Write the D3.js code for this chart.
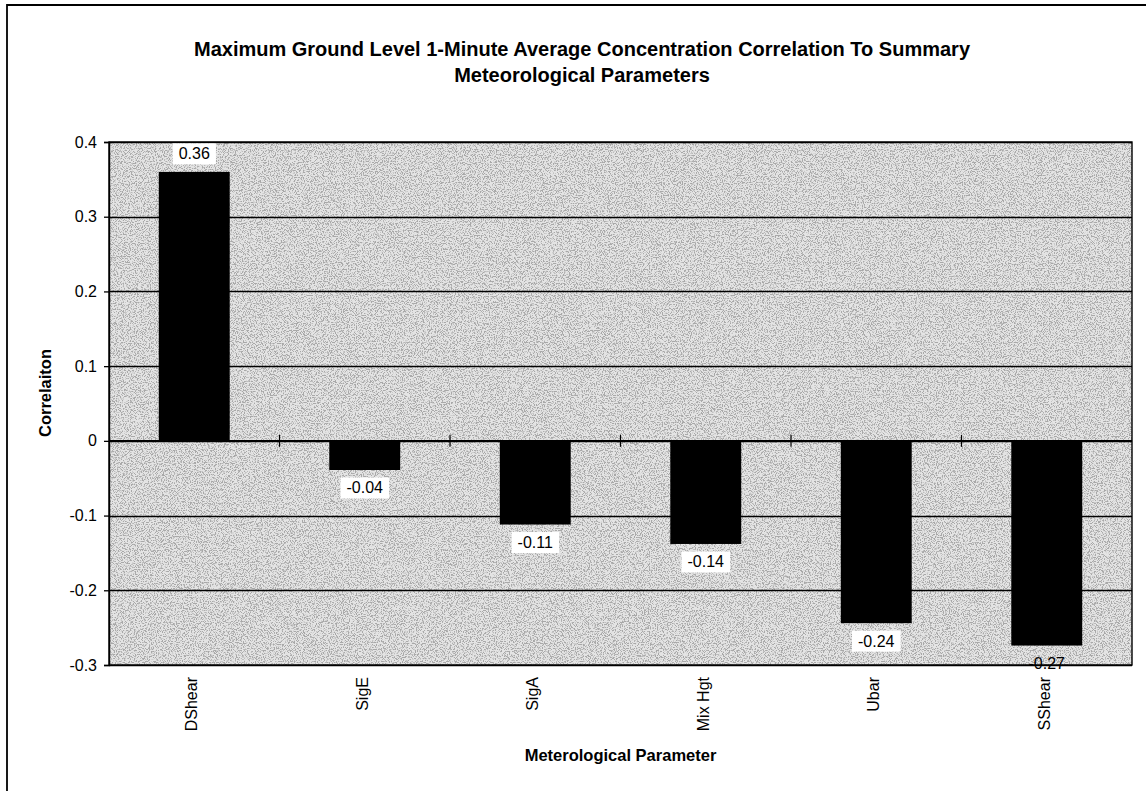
<!DOCTYPE html>
<html><head><meta charset="utf-8">
<script src="https://cdn.jsdelivr.net/npm/d3@7/dist/d3.min.js"></script>
<style>
html,body{margin:0;padding:0;background:#fff;}
svg{display:block;font-family:"Liberation Sans",Arial,sans-serif;}
</style></head>
<body>
<svg id="chart" width="1146" height="791"></svg>
<script>
const categories = ["DShear","SigE","SigA","Mix Hgt","Ubar","SShear"];
const values = [0.36,-0.039,-0.112,-0.138,-0.244,-0.274];
const yTicks = [0.4,0.3,0.2,0.1,0,-0.1,-0.2,-0.3];
const titleLines = ["Maximum Ground Level 1-Minute Average Concentration Correlation To Summary","Meteorological Parameters"];
const xTitle = "Meterological Parameter";
const yTitle = "Correlaiton";

const svg = d3.select("#chart");
const W = 1146, H = 791;
const m = {left:109, right:1132, top:142, bottom:665};

const defs = svg.append("defs");
const f = defs.append("filter").attr("id","grain").attr("x",0).attr("y",0).attr("width","100%").attr("height","100%");
f.append("feTurbulence").attr("type","fractalNoise").attr("baseFrequency",0.85).attr("numOctaves",2).attr("seed",7).attr("result","n");
f.append("feColorMatrix").attr("in","n").attr("type","matrix")
  .attr("values","0 0 0 0 0  0 0 0 0 0  0 0 0 0 0  7 0 0 0 -3.4");

// outer frame
svg.append("path").attr("d",`M7,${H+2}V5H${W+2}`).attr("fill","none").attr("stroke","#000").attr("stroke-width",1.8);

const x = d3.scaleBand().domain(categories).range([m.left,m.right]).paddingInner(0.584).paddingOuter(0.292);
const y = d3.scaleLinear().domain([-0.3,0.4]).range([m.bottom,m.top]);

// plot background (light grey with stipple)
svg.append("rect").attr("x",m.left).attr("y",m.top).attr("width",m.right-m.left).attr("height",m.bottom-m.top)
  .attr("fill","#e4e4e4");
svg.append("rect").attr("x",m.left).attr("y",m.top).attr("width",m.right-m.left).attr("height",m.bottom-m.top)
  .attr("fill","#fff").attr("filter","url(#grain)").attr("opacity",0.26);

// gridlines
svg.append("g").selectAll("line").data(yTicks).join("line")
  .attr("x1",m.left).attr("x2",m.right).attr("y1",d=>Math.round(y(d))+0.5).attr("y2",d=>Math.round(y(d))+0.5)
  .attr("stroke","#000").attr("stroke-width",1.3);

// plot border
svg.append("rect").attr("x",m.left).attr("y",m.top).attr("width",m.right-m.left).attr("height",m.bottom-m.top)
  .attr("fill","none").attr("stroke","#000").attr("stroke-width",1.4);

// y axis
const yAxis = d3.axisLeft(y).tickValues(yTicks).tickSize(5).tickPadding(7).tickFormat(d=>String(d));
const ga = svg.append("g").attr("transform",`translate(${m.left},0)`).call(yAxis);
ga.select(".domain").attr("stroke","#000").attr("stroke-width",1.4);
ga.selectAll(".tick line").attr("stroke","#000").attr("stroke-width",1.3);
ga.selectAll(".tick text").attr("font-size",16).attr("fill","#000").attr("font-family","'Liberation Sans',Arial,sans-serif");

// bars
svg.append("g").selectAll("rect").data(categories).join("rect")
  .attr("x",d=>x(d)).attr("width",x.bandwidth())
  .attr("y",(d,i)=>Math.min(y(values[i]),y(0)))
  .attr("height",(d,i)=>Math.abs(y(values[i])-y(0)))
  .attr("fill","#000");

// zero axis with category-boundary ticks
const step = x.step();
const bounds = d3.range(1,categories.length).map(k=>m.left + k*step);
svg.append("line").attr("x1",m.left).attr("x2",m.right).attr("y1",y(0)).attr("y2",y(0)).attr("stroke","#000").attr("stroke-width",1.6);
svg.append("g").selectAll("line").data(bounds).join("line")
  .attr("x1",d=>d).attr("x2",d=>d).attr("y1",y(0)-6).attr("y2",y(0)+6).attr("stroke","#000").attr("stroke-width",1.2);

// data labels
const fmt = v => d3.format(".2f")(v).replace("\u2212","-");
const lg = svg.append("g");
categories.forEach((c,i)=>{
  const v = values[i];
  const cx = x(c)+x.bandwidth()/2;
  const cy = v>=0 ? y(v)-18 : y(v)+18;
  const g = lg.append("g");
  const t = g.append("text").attr("x",cx).attr("y",cy).attr("text-anchor","middle").attr("dominant-baseline","central")
    .attr("font-size",16).attr("fill","#000").text(fmt(v));
  const bb = t.node().getBBox();
  if (bb.y+bb.height+4 < m.bottom) {
    g.insert("rect","text").attr("x",bb.x-6).attr("y",bb.y-2).attr("width",bb.width+12).attr("height",bb.height+4).attr("fill","#fff");
  }
});

// x category labels
svg.append("g").selectAll("text").data(categories).join("text")
  .attr("transform",d=>`translate(${x(d)+x.bandwidth()/2+3},${m.bottom+12}) rotate(-90)`)
  .attr("text-anchor","end").attr("font-size",16).attr("fill","#000").text(d=>d);

// titles
svg.append("g").selectAll("text").data(titleLines).join("text")
  .attr("x",582).attr("y",(d,i)=>56+i*26).attr("text-anchor","middle")
  .attr("font-size",20).attr("font-weight","bold").attr("fill","#000").text(d=>d);

svg.append("text").attr("x",(m.left+m.right)/2).attr("y",761).attr("text-anchor","middle")
  .attr("font-size",16.5).attr("font-weight","bold").text(xTitle);

svg.append("text").attr("transform",`translate(51,393) rotate(-90)`).attr("text-anchor","middle")
  .attr("font-size",16.5).attr("font-weight","bold").text(yTitle);
</script>
</body></html>
